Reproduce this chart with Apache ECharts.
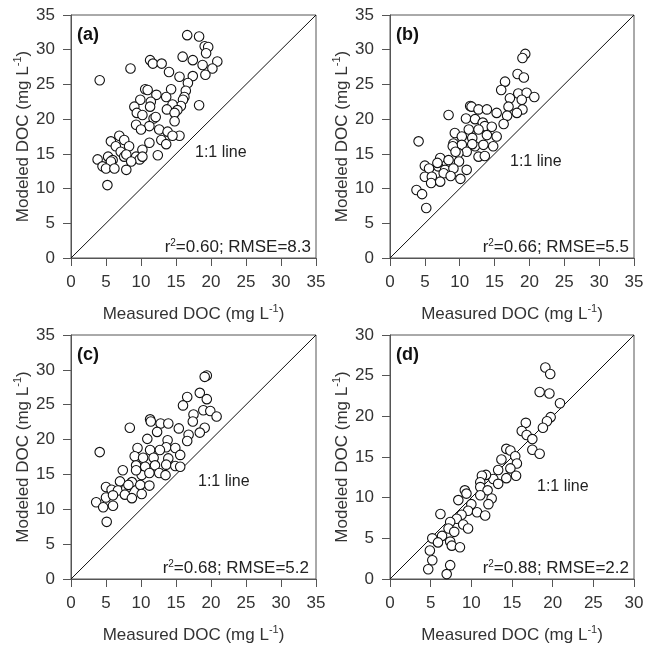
<!DOCTYPE html>
<html>
<head>
<meta charset="utf-8">
<script src="https://cdn.jsdelivr.net/npm/echarts@6/dist/echarts.min.js"></script>
<style>html,body{margin:0;padding:0;background:#fff}#c{width:655px;height:646px}</style>
</head>
<body>
<div id="c"></div>
<script>
// ---- Data (measured x, modeled y) ----
var aMeasured = [16.6,18.3,19.1,19.6,19.3,15.95,17.4,20.9,18.8,20.2,19.2,11.3,11.7,12.95,8.5,4.1,14.0,15.5,17.4,16.7,10.6,10.95,14.3,16.4,12.2,13.6,16.2,9.9,11.4,16.0,15.7,9.05,9.4,11.3,14.5,18.3,13.7,15.2,10.2,11.8,14.8,14.8,12.1,9.3,11.2,10.0,12.6,13.8,15.5,14.5,6.9,5.7,7.6,8.3,11.2,12.9,13.6,6.4,7.1,10.2,7.6,7.9,9.3,9.8,3.8,5.3,5.95,12.4,8.6,5.7,4.5,5.0,7.9,6.2,10.2,5.2];
var aModeled  = [32.1,31.9,30.5,30.4,29.5,29.0,28.5,28.3,27.8,27.3,26.4,28.5,28.0,28.0,27.3,25.6,26.8,26.1,26.2,25.2,24.3,24.2,24.3,24.1,23.5,23.2,23.2,22.8,22.5,22.8,21.9,21.8,20.9,21.8,22.1,22.0,21.4,21.3,20.6,20.1,20.9,19.7,20.3,19.2,19.0,18.5,18.5,18.2,17.6,17.6,17.6,16.8,17.0,16.1,16.6,17.0,16.4,16.1,15.3,15.6,14.6,14.9,14.6,14.2,14.2,14.6,14.1,14.8,13.9,13.9,13.2,12.9,12.7,12.9,14.6,10.5];

var bMeasured = [19.4,19.0,18.3,19.2,16.5,15.95,18.4,19.6,20.7,17.2,18.9,17.0,19.0,18.2,11.5,11.7,12.7,13.9,15.3,8.4,10.9,12.2,16.8,13.3,13.6,16.3,14.6,11.3,12.7,9.3,10.3,13.9,15.3,11.8,4.1,9.1,10.3,12.2,13.4,14.8,9.0,11.8,11.0,9.8,12.7,13.6,7.2,8.4,9.9,5.0,6.9,5.6,7.9,9.1,11.0,5.0,6.0,7.7,8.7,10.1,5.9,7.2,3.8,4.6,5.2,6.8,9.4];
var bModeled  = [29.4,28.8,26.5,26.0,25.4,24.2,23.7,23.8,23.2,23.0,22.8,21.8,21.4,20.9,21.9,21.8,21.4,21.4,20.9,20.6,20.1,20.0,20.5,19.5,19.0,19.3,18.9,18.5,18.5,18.0,17.5,17.7,17.5,17.3,16.8,16.5,16.3,16.1,16.3,16.1,16.1,16.4,15.3,15.1,14.6,14.7,14.4,14.1,13.9,13.3,13.2,12.9,12.7,12.9,12.7,11.7,11.7,12.2,11.8,11.4,10.8,11.0,9.8,9.2,7.2,13.7,15.3];

var cMeasured = [19.4,19.1,18.4,16.6,19.4,16.0,17.5,18.9,19.9,20.8,17.4,19.1,18.4,11.3,11.4,12.8,13.9,15.4,8.4,12.3,10.9,16.8,13.8,16.6,13.6,9.5,11.3,12.7,14.9,4.1,9.1,10.3,11.8,13.9,15.6,9.3,10.6,12.0,13.6,14.9,15.6,7.4,10.1,11.2,12.6,13.5,7.0,8.7,9.9,11.2,5.0,5.8,6.7,7.9,5.0,6.0,7.7,8.7,10.1,3.6,4.6,6.0,5.1,8.2,9.3];
var cModeled  = [29.2,29.0,26.7,26.1,25.8,24.9,23.6,24.2,24.1,23.3,22.6,21.7,21.0,22.9,22.6,22.3,22.3,21.6,21.7,21.1,20.1,20.7,19.9,19.8,18.9,18.8,18.5,18.5,18.8,18.2,17.6,17.4,17.4,17.3,17.8,16.3,16.1,16.3,16.4,16.2,16.1,15.6,14.9,15.2,15.2,14.9,14.0,13.9,13.5,13.4,13.2,12.8,12.7,13.0,11.7,12.0,12.1,11.6,12.2,11.0,10.3,10.5,8.2,13.5,15.6];

var dMeasured = [19.1,19.7,18.4,19.6,20.9,19.75,19.3,18.8,16.7,16.2,16.8,17.5,17.5,18.4,14.3,14.8,15.4,13.7,15.6,14.8,13.3,15.5,14.3,12.7,13.3,11.8,11.3,11.1,11.1,12.0,12.5,12.1,9.2,8.4,10.0,9.6,10.7,8.8,11.7,6.2,8.2,7.4,9.0,9.6,7.2,7.9,6.4,7.4,5.2,5.9,7.6,8.6,4.9,5.2,4.7,7.4,6.97,11.1,9.4];
var dModeled  = [26.0,25.2,23.0,22.8,21.6,19.9,19.4,18.6,19.2,18.2,17.7,17.2,15.9,15.4,16.0,15.8,15.1,14.7,14.2,13.6,13.4,12.7,12.4,12.3,11.7,12.8,12.7,11.9,11.3,10.9,9.9,9.2,10.9,9.7,9.2,8.4,8.2,7.9,7.8,8.0,7.4,7.0,6.7,6.2,6.2,5.8,5.3,4.6,5.0,4.5,4.1,3.9,3.5,2.3,1.2,1.7,0.6,10.3,10.5];

var panelLabels = ['(a)','(b)','(c)','(d)'];
var statLabels = ['r{sup|2}=0.60; RMSE=8.3','r{sup|2}=0.66; RMSE=5.5','r{sup|2}=0.68; RMSE=5.2','r{sup|2}=0.88; RMSE=2.2'];
var axisMax = [35,35,35,30];
var lineText = '1:1 line';

function zip(x,y){ return x.map(function(v,i){ return [v,y[i]]; }); }
var panels = [zip(aMeasured,aModeled), zip(bMeasured,bModeled), zip(cMeasured,cModeled), zip(dMeasured,dModeled)];

var FONT = '"Liberation Sans", Arial, sans-serif';
var grids = [
  {left:71, top:15, width:245, height:243},
  {left:390, top:15, width:244, height:243},
  {left:71, top:335, width:245, height:244},
  {left:390, top:335, width:244, height:244}
];
var axLine = {lineStyle:{color:'#555', width:1}};
var nameRich = {
  n:{fontSize:17, color:'#333', fontFamily:FONT, lineHeight:22},
  sup:{fontSize:11, color:'#333', fontFamily:FONT, lineHeight:11, verticalAlign:'top'}
};
var xAxes=[], yAxes=[], series=[];
grids.forEach(function(g,i){
  g.show = true; g.borderColor = '#555'; g.borderWidth = 1;
  xAxes.push({
    gridIndex:i, type:'value', min:0, max:axisMax[i], interval:5,
    axisLine:axLine, axisTick:{show:true, length:8, lineStyle:{color:'#555'}},
    splitLine:{show:false},
    axisLabel:{fontSize:17, color:'#333', fontFamily:FONT, margin:16},
    name:'{n|Measured DOC (mg L}{sup|-1}{n|)}', nameLocation:'middle', nameGap:45,
    nameTextStyle:{rich:nameRich}
  });
  yAxes.push({
    gridIndex:i, type:'value', min:0, max:axisMax[i], interval:5,
    axisLine:axLine, axisTick:{show:true, length:8, lineStyle:{color:'#555'}},
    splitLine:{show:false},
    axisLabel:{fontSize:17, color:'#333', fontFamily:FONT, margin:16},
    name:'{n|Modeled DOC (mg L}{sup|-1}{n|)}', nameLocation:'middle', nameGap:34,
    nameTextStyle:{rich:nameRich}
  });
  series.push({
    type:'line', xAxisIndex:i, yAxisIndex:i, data:[[0,0],[axisMax[i],axisMax[i]]],
    symbol:'none', lineStyle:{color:'#111', width:1}, z:1, silent:true
  });
  series.push({
    type:'scatter', xAxisIndex:i, yAxisIndex:i, data:panels[i],
    symbol:'circle', symbolSize:9.5,
    itemStyle:{color:'#fff', borderColor:'#111', borderWidth:1.1, opacity:1}, z:2
  });
});

var lblPos = [[77,35],[396,35],[77,355],[396,355]];
var linePos = [[195,153],[510,162],[198,482],[537,487]];
var statPos = [[311,247],[629,247],[309,568],[629,568]];
var graphic = [];
for (var i=0;i<4;i++){
  graphic.push({type:'text', x:lblPos[i][0], y:lblPos[i][1], z:10,
    style:{text:panelLabels[i], font:'bold 18px '+FONT, fill:'#111', verticalAlign:'middle', align:'left'}});
  graphic.push({type:'text', x:linePos[i][0], y:linePos[i][1], z:10,
    style:{text:lineText, font:'16px '+FONT, fill:'#222', verticalAlign:'middle', align:'left'}});
  graphic.push({type:'text', x:statPos[i][0], y:statPos[i][1], z:10,
    style:{text:statLabels[i], fontSize:17, fontFamily:FONT, fill:'#222', verticalAlign:'middle', align:'right',
      rich:{sup:{fontSize:10, fontFamily:FONT, fill:'#222', verticalAlign:'top', lineHeight:10}}}});
}

var chart = echarts.init(document.getElementById('c'), null, {renderer:'canvas'});
chart.setOption({
  animation:false,
  backgroundColor:'#fff',
  grid:grids, xAxis:xAxes, yAxis:yAxes, series:series, graphic:graphic
});
</script>
</body>
</html>
